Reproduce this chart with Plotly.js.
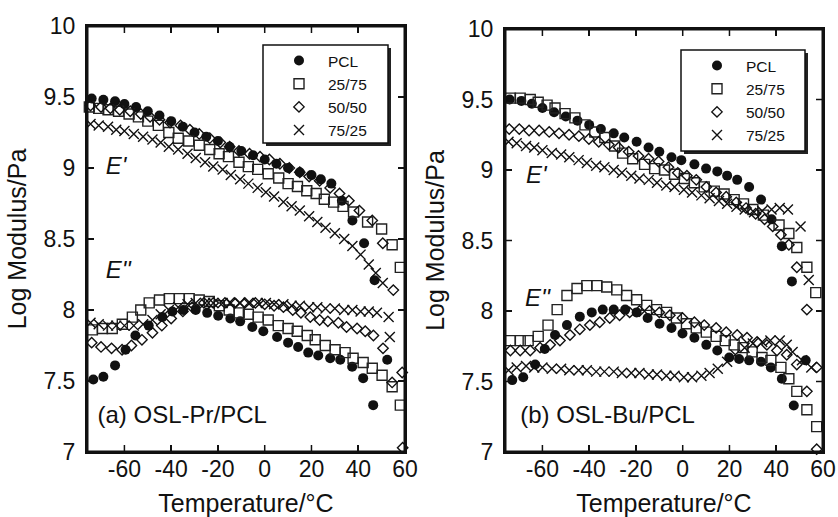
<!DOCTYPE html>
<html>
<head>
<meta charset="utf-8">
<script src="https://cdn.plot.ly/plotly-3.0.1.min.js"></script>
<style>html,body{margin:0;padding:0;background:#fff;}#chart{width:838px;height:517px;}</style>
</head>
<body>
<div id="chart"></div>
<script>
// ---------- data (Temperature/°C, Log Modulus/Pa) ----------
const seriesNames = ['PCL', '25/75', '50/50', '75/25'];
const xTickVals = [-60, -40, -20, 0, 20, 40, 60];
const xTickText = ['-60', '-40', '-20', '0', '20', '40', '60'];
const yTickVals = [7, 7.5, 8, 8.5, 9, 9.5, 10];
const yTickText = ['7', '7.5', '8', '8.5', '9', '9.5', '10'];
const xRange = [-76, 60];
const yRange = [7, 10];

// (a) OSL-Pr/PCL  E'
const aPCL_Ep = [[-74,9.49],[-69,9.48],[-64,9.47],[-60,9.45],[-55,9.43],[-50,9.40],[-45,9.37],[-40,9.33],[-35,9.29],[-30,9.25],[-25,9.22],[-20,9.19],[-15,9.15],[-10,9.12],[-5,9.09],[0,9.06],[5,9.03],[10,9.00],[15,8.97],[20,8.95],[24,8.92],[28.5,8.89],[33,8.77],[37.5,8.63],[42.5,8.47],[47,8.21]];
const a25_Ep = [[-75,9.43],[-71,9.42],[-67,9.41],[-62.5,9.40],[-58,9.38],[-54,9.36],[-50,9.33],[-45.5,9.30],[-41,9.25],[-37,9.21],[-32.5,9.19],[-28,9.16],[-23.5,9.13],[-19.5,9.10],[-15.5,9.08],[-11,9.04],[-7,9.01],[-3,8.99],[1.5,8.96],[6,8.93],[10,8.89],[14,8.87],[18,8.84],[22,8.82],[25.5,8.78],[29.5,8.76],[33.5,8.73],[38,8.69],[44,8.62],[50,8.57],[54.5,8.46],[58,8.30]];
const a50_Ep = [[-74.5,9.44],[-70,9.43],[-66,9.42],[-62,9.41],[-57.5,9.40],[-53,9.38],[-49,9.36],[-45,9.34],[-40.5,9.32],[-36,9.30],[-32,9.27],[-28,9.24],[-23.5,9.21],[-19,9.18],[-15,9.15],[-11,9.12],[-6.5,9.10],[-2,9.08],[2,9.06],[6.5,9.03],[10.5,9.00],[15,8.97],[19,8.94],[23.5,8.91],[28,8.86],[32,8.82],[36,8.77],[40.5,8.70],[46,8.63],[50.5,8.47],[55,8.14],[58.8,7.56]];
const a75_Ep = [[-74.5,9.31],[-71,9.30],[-67,9.29],[-63.5,9.27],[-60,9.26],[-56,9.24],[-52,9.22],[-48,9.20],[-44.5,9.18],[-41,9.15],[-37,9.13],[-33,9.10],[-29.5,9.07],[-25.5,9.04],[-22,9.01],[-18,8.99],[-14.5,8.95],[-10.5,8.92],[-7,8.89],[-3,8.86],[0.5,8.83],[4,8.80],[8,8.76],[11.5,8.73],[15,8.70],[19,8.66],[22.5,8.62],[26,8.58],[30,8.54],[34,8.50],[37.5,8.45],[41,8.39],[44.5,8.32],[47.5,8.26],[50.5,8.19]];
// (a) E''
const aPCL_Epp = [[-73.3,7.51],[-69,7.53],[-64,7.61],[-59.5,7.72],[-55.3,7.82],[-49.6,7.89],[-43.8,7.95],[-39.5,7.99],[-34.8,8.00],[-29.5,8.00],[-24.6,7.98],[-19.9,7.96],[-14.7,7.94],[-10.5,7.92],[-5.3,7.88],[-0.6,7.85],[5.3,7.81],[10,7.77],[14.3,7.74],[18.6,7.70],[22.9,7.68],[28,7.66],[32.3,7.65],[37.4,7.60],[42.1,7.52],[46.4,7.33],[52.4,7.65]];
const a25_Epp = [[-73.7,7.86],[-69.4,7.87],[-65.2,7.87],[-60.9,7.90],[-56.6,7.95],[-53,8.00],[-49.4,8.05],[-45,8.07],[-40.8,8.08],[-36.5,8.08],[-32.3,8.08],[-28,8.07],[-23.7,8.06],[-19.4,8.03],[-15.2,8.00],[-10.9,7.98],[-7,7.97],[-2.8,7.95],[1.5,7.93],[5.8,7.89],[10,7.87],[13.9,7.85],[18.2,7.82],[21.6,7.79],[25.9,7.75],[30.1,7.72],[34.4,7.70],[37.8,7.66],[42.1,7.63],[46,7.59],[50.2,7.54],[54.5,7.46],[58,7.33]];
const a50_Epp = [[-74,7.77],[-70,7.74],[-65.5,7.73],[-61,7.72],[-57,7.75],[-52.5,7.79],[-48,7.84],[-44,7.89],[-40,7.94],[-35,7.99],[-31,8.02],[-26,8.05],[-22,8.05],[-17,8.05],[-13,8.05],[-8.5,8.05],[-4,8.05],[0,8.04],[4,8.03],[8,8.02],[12,8.00],[15.5,7.98],[19.5,7.95],[23.5,7.93],[27,7.92],[31.5,7.91],[35,7.88],[39.5,7.87],[43,7.85],[46.5,7.82],[50.6,7.73],[54.5,7.49],[59,7.03]];
const a75_Epp = [[-74.5,7.91],[-71,7.90],[-67,7.89],[-63.5,7.89],[-60,7.89],[-56,7.89],[-52,7.90],[-48,7.93],[-44.5,7.97],[-41,8.00],[-37,8.02],[-33,8.04],[-29.5,8.05],[-25.5,8.05],[-22,8.05],[-18,8.05],[-14.5,8.05],[-10.5,8.05],[-7,8.05],[-3,8.05],[0.5,8.05],[4,8.04],[8,8.04],[11.5,8.03],[15,8.03],[19,8.02],[22.5,8.02],[26,8.01],[30,8.01],[34,8.00],[37.5,8.00],[41,7.99],[44.5,7.99],[48,7.98],[53,7.95],[53.5,7.81]];

// (b) OSL-Bu/PCL  E'
const bPCL_Ep = [[-74,9.50],[-69,9.49],[-64.5,9.47],[-60,9.44],[-55,9.41],[-50,9.38],[-45,9.35],[-40,9.32],[-35,9.29],[-29.5,9.26],[-25,9.23],[-19.7,9.20],[-14.6,9.16],[-10,9.13],[-4.8,9.09],[-0.6,9.07],[5,9.04],[10,9.01],[14.8,8.99],[19,8.96],[23.3,8.93],[28.4,8.88],[33.5,8.79],[38,8.65],[42.4,8.46],[46.7,8.21]];
const b25_Ep = [[-73.7,9.51],[-69.5,9.51],[-65.2,9.50],[-61.8,9.48],[-58,9.46],[-54.6,9.44],[-50.3,9.40],[-46.1,9.37],[-41.8,9.32],[-37.6,9.27],[-33.3,9.23],[-29.1,9.17],[-25.7,9.12],[-21.4,9.08],[-16.3,9.04],[-12,9.01],[-7.8,9.00],[-3.5,8.97],[0.7,8.94],[5,8.91],[9.2,8.88],[13.5,8.85],[17.7,8.83],[22,8.79],[26,8.76],[30,8.72],[34.5,8.68],[41.2,8.61],[45.4,8.55],[48.8,8.45],[53.1,8.31],[56.9,8.13]];
const b50_Ep = [[-74.2,9.29],[-69.9,9.29],[-65.7,9.28],[-61.4,9.28],[-57.1,9.27],[-52.9,9.26],[-48.6,9.25],[-44.4,9.24],[-40.1,9.22],[-35.9,9.20],[-31.6,9.18],[-27.4,9.16],[-23.1,9.13],[-18.9,9.10],[-14.6,9.08],[-10.3,9.06],[-6.1,9.02],[-2.1,8.98],[1.8,8.96],[5.8,8.93],[10.1,8.88],[14.3,8.84],[18.6,8.81],[22.9,8.77],[27.1,8.73],[31.2,8.69],[35,8.65],[38.5,8.60],[42,8.54],[45.4,8.47],[48.8,8.31],[53.1,8.01],[57.3,7.60]];
const b75_Ep = [[-74.5,9.20],[-71,9.19],[-67,9.17],[-63.5,9.16],[-60,9.14],[-56,9.12],[-52,9.11],[-48.5,9.09],[-44.5,9.07],[-41,9.05],[-37,9.03],[-33.5,9.02],[-29.5,9.00],[-26,8.98],[-22,8.96],[-18.5,8.94],[-14.5,8.93],[-11,8.91],[-7,8.89],[-3.5,8.88],[0.5,8.86],[4,8.84],[8,8.82],[11.5,8.80],[15.5,8.78],[19,8.76],[23,8.74],[26.5,8.72],[30.5,8.70],[34,8.71],[38,8.72],[41.5,8.73],[45,8.72],[50.4,8.60],[53.9,8.22]];
// (b) E''
const bPCL_Epp = [[-72.9,7.51],[-68.2,7.53],[-63.1,7.62],[-59,7.73],[-54.6,7.83],[-49.5,7.90],[-44,7.96],[-38.9,7.99],[-34.2,8.01],[-29.5,8.01],[-24.6,8.01],[-19.7,7.99],[-15,7.95],[-9.9,7.91],[-4.8,7.88],[-0.1,7.84],[5,7.81],[10.1,7.76],[14.8,7.72],[19.9,7.67],[24.1,7.66],[28.4,7.65],[33.5,7.64],[37.7,7.60],[42.4,7.52],[47.5,7.33],[52.6,7.65]];
const b25_Epp = [[-73.7,7.79],[-69.5,7.79],[-66.1,7.79],[-61.8,7.82],[-57.6,7.90],[-53.7,8.01],[-49.5,8.11],[-45.2,8.16],[-41,8.18],[-36.7,8.18],[-32.5,8.17],[-28.2,8.15],[-24,8.11],[-19.7,8.08],[-15.4,8.04],[-11.2,8.01],[-6.9,7.99],[-2.7,7.95],[1.6,7.91],[5.8,7.88],[10.1,7.85],[14.3,7.82],[18.2,7.79],[22,7.76],[25.8,7.74],[29.7,7.71],[33.9,7.67],[37.7,7.65],[42,7.60],[45.4,7.52],[48.8,7.43],[53.1,7.30],[57.3,7.18]];
const b50_Epp = [[-73.7,7.72],[-69.5,7.72],[-65.2,7.72],[-61,7.74],[-56.7,7.76],[-52.5,7.79],[-48.2,7.83],[-44,7.87],[-39.7,7.90],[-35.5,7.92],[-31.2,7.95],[-27,7.97],[-22.7,7.99],[-18.5,8.00],[-14.2,8.00],[-10,7.99],[-5.5,7.97],[-0.1,7.95],[5,7.92],[9.2,7.90],[14.3,7.88],[18.6,7.85],[23.3,7.83],[27.5,7.81],[31.8,7.78],[36,7.76],[40.3,7.72],[44.5,7.69],[48.8,7.62],[53.1,7.43],[57.3,7.02]];
const b75_Epp = [[-74.5,7.58],[-71,7.60],[-67,7.61],[-63.5,7.60],[-60,7.60],[-56,7.59],[-52,7.59],[-48.5,7.58],[-44.5,7.58],[-41,7.58],[-37,7.57],[-33.5,7.57],[-29.5,7.57],[-26,7.56],[-22,7.56],[-18.5,7.56],[-14.5,7.55],[-11,7.55],[-7,7.54],[-3.5,7.54],[0.5,7.53],[4,7.53],[8,7.54],[11.5,7.56],[15,7.59],[19,7.64],[22.5,7.69],[26.5,7.74],[30,7.77],[34,7.78],[37.5,7.79],[41.5,7.79],[44.5,7.76],[47,7.71],[51,7.65],[55,7.60]];

// in-plot labels: text, T, logE
const aLabels = [["<i>E'</i>", -68, 9.0], ["<i>E''</i>", -68, 8.27], ['(a) OSL-Pr/PCL', -71.5, 7.25]];
const bLabels = [["<i>E'</i>", -67, 8.95], ["<i>E''</i>", -67.5, 8.08], ['(b) OSL-Bu/PCL', -69.5, 7.25]];

// ---------- styles ----------
const INK = '#111';
const FONT = 'Liberation Sans, Arial, Helvetica, sans-serif';
const markerStyles = [
  {symbol: 'circle', size: 10, color: INK, line: {width: 0, color: INK}},
  {symbol: 'square-open', size: 10, color: '#222', line: {width: 1.4, color: '#222'}},
  {symbol: 'diamond-open', size: 8, color: INK, line: {width: 1.4, color: INK}},
  {symbol: 'x-thin-open', size: 10, color: INK, line: {width: 1.4, color: INK}}
];

const panelA = {Ep: [aPCL_Ep, a25_Ep, a50_Ep, a75_Ep], Epp: [aPCL_Epp, a25_Epp, a50_Epp, a75_Epp], labels: aLabels, xa: 'x', ya: 'y', legend: 'legend'};
const panelB = {Ep: [bPCL_Ep, b25_Ep, b50_Ep, b75_Ep], Epp: [bPCL_Epp, b25_Epp, b50_Epp, b75_Epp], labels: bLabels, xa: 'x2', ya: 'y2', legend: 'legend2'};

const traces = [];
[panelA, panelB].forEach(p => {
  // one trace per blend: E' and E'' markers together
  p.Ep.forEach((pts, i) => {
    const all = pts.concat(p.Epp[i]);
    traces.push({
      type: 'scatter', mode: 'markers',
      x: all.map(d => d[0]), y: all.map(d => d[1]),
      xaxis: p.xa, yaxis: p.ya, name: seriesNames[i], legend: p.legend,
      cliponaxis: false, marker: markerStyles[i], hoverinfo: 'x+y'
    });
  });
});
[panelA, panelB].forEach(p => {
  traces.push({
    type: 'scatter', mode: 'text', xaxis: p.xa, yaxis: p.ya, showlegend: false, cliponaxis: false,
    x: p.labels.map(d => d[1]), y: p.labels.map(d => d[2]), text: p.labels.map(d => d[0]),
    textposition: 'middle right', textfont: {size: 24, color: INK, family: FONT}, hoverinfo: 'skip'
  });
});

const W = 838, H = 517;
const px = v => v / W, py = v => 1 - v / H;
const CLEAR = 'rgba(0,0,0,0)';

const boxA = {l: 87, r: 405, t: 26, b: 452};
const boxB = {l: 505, r: 823, t: 29, b: 452};

function xAxis(box, anchor) {
  return {domain: [px(box.l), px(box.r)], anchor: anchor, range: xRange, tickmode: 'array', tickvals: xTickVals, ticktext: xTickText,
    ticks: 'inside', ticklen: 7, tickwidth: 1.5, tickcolor: INK, showline: true, linewidth: 2, linecolor: INK,
    mirror: 'ticks', showgrid: false, zeroline: false, tickfont: {size: 23, color: INK}, ticklabelstandoff: -5,
    title: {text: 'Temperature/°C', font: {size: 25, color: INK}, standoff: 27}, fixedrange: true};
}
function yAxis(box, anchor) {
  return {domain: [py(box.b), py(box.t)], anchor: anchor, range: yRange, tickmode: 'array', tickvals: yTickVals, ticktext: yTickText,
    ticks: 'inside', ticklen: 7, tickwidth: 1.5, tickcolor: INK, showline: true, linewidth: 2, linecolor: INK,
    mirror: 'ticks', showgrid: false, zeroline: false, tickfont: {size: 23, color: INK}, ticklabelstandoff: 5,
    title: {text: 'Log Modulus/Pa', font: {size: 25, color: INK}, standoff: 10}, fixedrange: true};
}

// frame + inward ticks (filled bars on the paper, following each subplot's box and ranges)
function frameAndTicks(box) {
  const TL = 7;
  const xAt = v => box.l + (v - xRange[0]) / (xRange[1] - xRange[0]) * (box.r - box.l);
  const yAt = v => box.b - (v - yRange[0]) / (yRange[1] - yRange[0]) * (box.b - box.t);
  const bar = (x0, y0, x1, y1) => ({type: 'rect', xref: 'paper', yref: 'paper',
    x0: px(Math.min(x0, x1)), x1: px(Math.max(x0, x1)), y0: py(Math.max(y0, y1)), y1: py(Math.min(y0, y1)),
    fillcolor: INK, line: {width: 0}, layer: 'above'});
  const out = [];
  xTickVals.forEach(v => {
    const X = xAt(v);
    out.push(bar(X - 0.75, box.b, X + 0.75, box.b - TL));
    out.push(bar(X - 0.75, box.t, X + 0.75, box.t + TL));
  });
  yTickVals.forEach(v => {
    const Y = yAt(v);
    out.push(bar(box.l, Y - 0.75, box.l + TL, Y + 0.75));
    out.push(bar(box.r, Y - 0.75, box.r - TL, Y + 0.75));
  });
  out.push(bar(box.l - 1.5, box.t - 1.5, box.r + 1.5, box.t + 1.5));
  out.push(bar(box.l - 1.5, box.b - 1.5, box.r + 1.5, box.b + 1.5));
  out.push(bar(box.l - 1.5, box.t - 1.5, box.l + 1.5, box.b + 1.5));
  out.push(bar(box.r - 1.5, box.t - 1.5, box.r + 1.5, box.b + 1.5));
  return out;
}

function legendBox(x0, y0, x1, y1) {
  return [
    {type: 'rect', xref: 'paper', yref: 'paper', x0: px(x0 + 3), x1: px(x1 + 3), y0: py(y1 + 3), y1: py(y0 + 3),
     fillcolor: '#222', line: {width: 0}, layer: 'above'},
    {type: 'rect', xref: 'paper', yref: 'paper', x0: px(x0), x1: px(x1), y0: py(y1), y1: py(y0),
     fillcolor: '#fff', line: {width: 1.5, color: INK}, layer: 'above'}
  ];
}

const legendCommon = {xanchor: 'left', yanchor: 'top', bgcolor: CLEAR, borderwidth: 0,
  font: {size: 15.5, color: INK, family: FONT}, itemwidth: 48, tracegroupgap: 0};

const layout = {
  width: W, height: H, margin: {l: 0, r: 0, t: 0, b: 0},
  paper_bgcolor: '#fff', plot_bgcolor: '#fff',
  font: {family: FONT, color: INK},
  xaxis: xAxis(boxA, 'y'),
  yaxis: yAxis(boxA, 'x'),
  xaxis2: xAxis(boxB, 'y2'),
  yaxis2: yAxis(boxB, 'x2'),
  legend: Object.assign({x: px(270), y: py(44)}, legendCommon),
  legend2: Object.assign({x: px(688), y: py(49)}, legendCommon),
  shapes: [].concat(frameAndTicks(boxA), frameAndTicks(boxB),
                    legendBox(263, 45, 388, 143), legendBox(681, 50, 805, 151)),
  showlegend: true
};

Plotly.newPlot('chart', traces, layout, {staticPlot: true, displayModeBar: false});
</script>
</body>
</html>
